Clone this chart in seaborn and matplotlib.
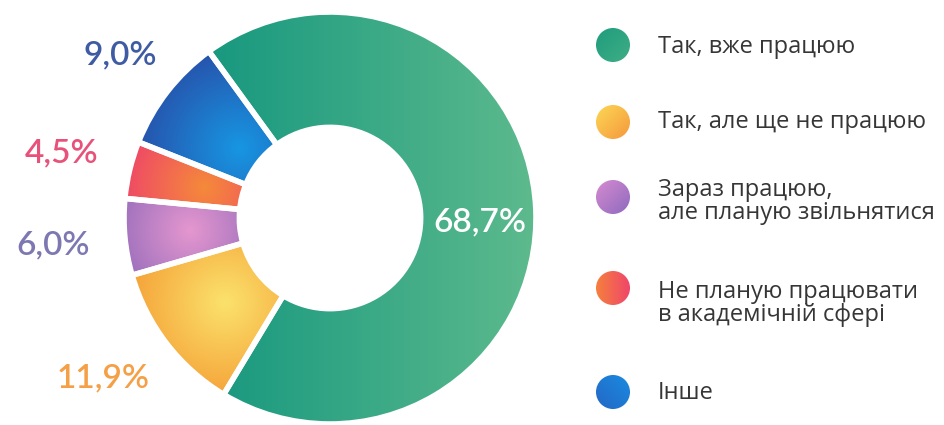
import numpy as np
import matplotlib
matplotlib.use("Agg")
import matplotlib.pyplot as plt
import seaborn as sns
from matplotlib.colors import to_rgb
from matplotlib.patches import Circle

categories = [
    "Так, вже працюю",
    "Так, але ще не працюю",
    "Зараз працюю,\nале планую звільнятися",
    "Не планую працювати\nв академічній сфері",
    "Інше",
]
shares = [68.7, 11.9, 6.0, 4.5, 9.0]
pct_labels = ["68,7%", "11,9%", "6,0%", "4,5%", "9,0%"]
label_colors = ["white", "#f5a047", "#7d78b2", "#e8527a", "#3e5ba3"]
label_radius = [0.73, 1.35, 1.35, 1.34, 1.29]
label_nudge = [(0, -11), (-6, 9), (0, -2), (0, 0), (0, 0)]  # pixels

# gradient specs for slices: (kind, params, color_a, color_b)
slice_grads = [
    ("linear", (-0.6, 0.0, 1.0, 0.0), "#17987f", "#5dba8d"),
    ("radial", (-0.51, -0.41, 0.55), "#fbe26c", "#f4972f"),
    ("radial", (-0.68, -0.06, 0.45), "#e597cf", "#8a66b8"),
    ("radial", (-0.61, 0.15, 0.45), "#f58a3a", "#ee3f6d"),
    ("radial", (-0.44, 0.34, 0.60), "#1796e2", "#2a44a0"),
]
# legend gradients, direction in unit circle coords (x right, y up)
legend_grads = [
    ((-1, 1, 1, -1), "#1f9c7d", "#3fae85"),
    ((-1, 1, 1, -1), "#fcd855", "#f5983c"),
    ((-1, 1, 1, -1), "#d68bd0", "#8e6abf"),
    ((-1, 0, 1, 0), "#f5803e", "#f0466a"),
    ((-1, -1, 1, 1), "#2468c5", "#1a8ae0"),
]


def gradient_image(ax, patch, spec, extent, zorder=1):
    kind, p, ca, cb = spec
    x0, x1, y0, y1 = extent
    X, Y = np.meshgrid(np.linspace(x0, x1, 300), np.linspace(y0, y1, 300))
    if kind == "radial":
        cx, cy, r = p
        t = np.clip(np.hypot(X - cx, Y - cy) / r, 0, 1)
    else:
        ax_, ay_, bx_, by_ = p
        dx, dy = bx_ - ax_, by_ - ay_
        t = np.clip(((X - ax_) * dx + (Y - ay_) * dy) / (dx * dx + dy * dy), 0, 1)
    a, b = np.array(to_rgb(ca)), np.array(to_rgb(cb))
    img = a * (1 - t)[..., None] + b * t[..., None]
    im = ax.imshow(img, extent=extent, origin="lower", aspect="auto",
                   interpolation="bilinear", zorder=zorder)
    im.set_clip_path(patch)


sns.set_theme(style="white")
plt.rcParams["font.family"] = ["Open Sans", "DejaVu Sans"]

fig = plt.figure(figsize=(9.44, 4.25), dpi=100)
ax = fig.add_axes([0, 0, 566 / 944, 1])

wedges, _ = ax.pie(shares, startangle=126, counterclock=False, radius=1,
                   wedgeprops=dict(width=0.56, edgecolor="white", linewidth=4))

ext = (-1.1, 1.1, -1.1, 1.1)
for w, spec in zip(wedges, slice_grads):
    gradient_image(ax, w, spec, ext, zorder=1)
    w.set_facecolor("none")
    w.set_zorder(3)

for w, lab, col, r, nd in zip(wedges, pct_labels, label_colors, label_radius, label_nudge):
    mid = np.deg2rad((w.theta1 + w.theta2) / 2)
    ax.annotate(lab, (r * np.cos(mid), r * np.sin(mid)), xytext=nd,
                textcoords="offset pixels", color=col, fontsize=24,
                family=["Lato", "DejaVu Sans"], weight="semibold",
                ha="center", va="center", zorder=4)

ax.set_xlim(-330 / 206, (566 - 330) / 206)
ax.set_ylim(-(425 - 218) / 206, 218 / 206)
ax.set_axis_off()

# legend
lax = fig.add_axes([580 / 944, 0, 364 / 944, 1])
row_y = [45, 122, 197, 288, 392]
text_y = [47, 122, 190, 292, 393]
cx, rad = 613, 17
for cat, (p, ca, cb), cy, ty in zip(categories, legend_grads, row_y, text_y):
    c = Circle((cx, cy), rad, facecolor="none", edgecolor="none")
    lax.add_patch(c)
    pp = (cx + p[0] * rad, cy - p[1] * rad, cx + p[2] * rad, cy - p[3] * rad)
    gradient_image(lax, c, ("linear", pp, ca, cb),
                   (cx - rad, cx + rad, cy + rad, cy - rad))
    for i, line in enumerate(cat.split("\n")):
        lax.text(658, ty + i * 23, line, fontsize=17, color="#363636",
                 ha="left", va="center")
lax.set_xlim(580, 944)
lax.set_ylim(425, 0)
lax.set_axis_off()

fig.savefig("out.png", dpi=100)
